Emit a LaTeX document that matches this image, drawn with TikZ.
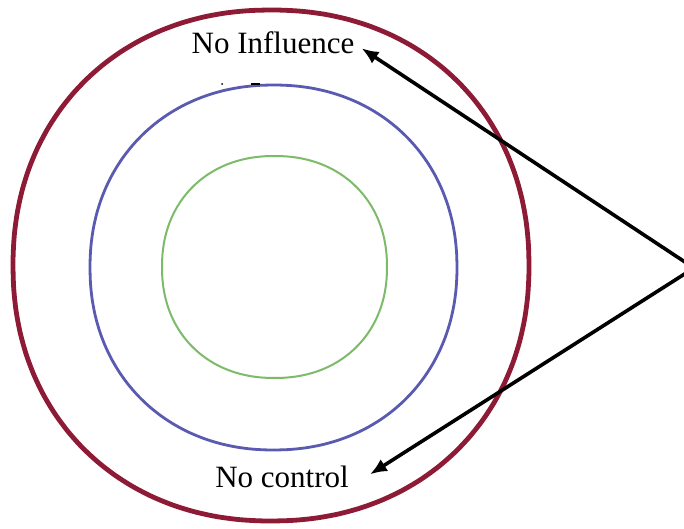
\documentclass[tikz,border=0pt]{standalone}
\usepackage{fontspec}
\setmainfont{Liberation Serif}
\usetikzlibrary{arrows.meta}
\usetikzlibrary{positioning}

\definecolor{ringred}{HTML}{8E1B35}
\definecolor{ringblue}{HTML}{5A5AB0}
\definecolor{ringgreen}{HTML}{7DBB6A}

\tikzset{
    label text/.style={font=\fontsize{31}{33}\selectfont, inner sep=3pt},
    pointer/.style={line width=3.6pt, -{Latex[length=17pt,width=14pt]}},
    ring plot/.style={domain=1:356, samples=72, smooth cycle, variable=\t}
}

\begin{document}
\begin{tikzpicture}[x=1pt, y=-1pt]
        \useasboundingbox (0,0) rectangle (684,529);
        \fill[white] (0,0) rectangle (684,529);

        % outer ring (no control)
        \draw[line width=4.8pt, ringred] plot[ring plot]
            ({271 + 258*cos(\t)*abs(cos(\t))^(-0.06)},
             {265.5 + 255.5*sin(\t)*abs(sin(\t))^(-0.06)});

        % middle ring
        \draw[line width=2.8pt, ringblue] plot[ring plot]
            ({273.5 + 183.5*cos(\t)*abs(cos(\t))^(-0.055)},
             {267.5 + 182.5*sin(\t)*abs(sin(\t))^(-0.055)});

        % inner ring
        \draw[line width=2pt, ringgreen] plot[ring plot]
            ({274.5 + 112.5*cos(\t)*abs(cos(\t))^(-0.07)},
             {267 + 111*sin(\t)*abs(sin(\t))^(-0.07)});

        % stray marks above the middle ring
        \fill (222,84) circle (1pt);
        \draw[line width=1.2pt] (251,84) -- (260,84);

        % labels
        \node[label text, anchor=base] (influence) at (273,54) {No Influence};
        \node[label text, anchor=base] (control) at (282,487) {No control};

        % arrows from outside the picture
        \coordinate (apex) at (694,268);
        \draw[pointer] (apex) -- ([xshift=4pt, yshift=-5pt]influence.east);
        \draw[pointer] (apex) -- ([xshift=18pt, yshift=2pt]control.east);

    \end{tikzpicture}
\end{document}
